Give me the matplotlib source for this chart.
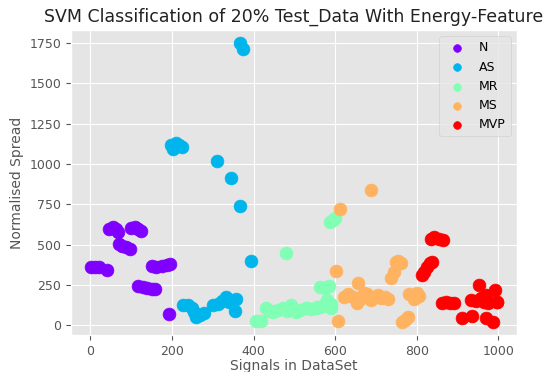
import matplotlib
matplotlib.use("Agg")
import matplotlib.pyplot as plt
import numpy as np

plt.style.use('ggplot')

# Class names
classes = ['N', 'AS', 'MR', 'MS', 'MVP']

# Points: signal index, normalised spread
n_x = [2, 12, 22, 40, 45, 55, 63, 68, 100, 110, 118, 123, 70, 78, 88, 98,
       150, 162, 175, 188, 195, 118, 128, 140, 150, 158, 194]
n_y = [360, 362, 358, 345, 595, 610, 598, 580, 605, 610, 598, 585, 505, 490, 485, 470,
       365, 362, 365, 372, 378, 245, 238, 230, 222, 225, 68]

as_x = [368, 375, 197, 203, 210, 218, 225, 311, 344, 368, 395,
        228, 240, 248, 255, 260, 268, 278, 300, 312, 322, 332, 340, 356, 354]
as_y = [1750, 1709, 1120, 1090, 1128, 1115, 1105, 1017, 915, 738, 397,
        122, 125, 108, 80, 50, 65, 75, 125, 130, 150, 175, 145, 160, 87]

mr_x = [405, 418, 430, 440, 447, 460, 472, 482, 491, 503, 515, 528, 540, 552,
        562, 572, 531, 556, 581, 589, 590, 564, 575, 585, 479, 588, 595, 600]
mr_y = [25, 28, 105, 85, 81, 95, 105, 90, 124, 81, 95, 105, 100, 105,
        110, 124, 105, 112, 155, 105, 130, 236, 230, 240, 446, 640, 655, 665]

ms_x = [688, 613, 601, 606, 621, 632, 645, 654, 655, 662, 670, 679, 687, 695,
        704, 712, 723, 730, 736, 744, 748, 755, 762, 782, 793, 800, 805, 765, 772, 778]
ms_y = [837, 719, 337, 25, 175, 195, 175, 136, 260, 160, 198, 195, 155, 175,
        186, 170, 175, 165, 290, 330, 390, 400, 385, 195, 160, 200, 180, 22, 35, 50]

mvp_x = [835, 843, 855, 864, 812, 818, 826, 832, 838, 862, 872, 882, 892,
         952, 993, 932, 964, 998, 912, 936, 969, 986, 969, 975, 958, 945, 997]
mvp_y = [535, 548, 535, 527, 310, 330, 360, 385, 392, 140, 145, 140, 138,
         248, 217, 155, 143, 143, 43, 56, 43, 19, 186, 140, 170, 150, 144]

xs = [n_x, as_x, mr_x, ms_x, mvp_x]
ys = [n_y, as_y, mr_y, ms_y, mvp_y]
colors = plt.cm.rainbow(np.linspace(0, 1, len(classes)))

fig = plt.figure(figsize=(5.56, 3.72), dpi=100)
ax = fig.add_axes([0.128, 0.099, 0.802, 0.820])

for x, y, c, name in zip(xs, ys, colors, classes):
    ax.scatter(x, y, s=85, color=c, label=name)

ax.set_xlim(-47, 1046)
ax.set_ylim(-62, 1829)
ax.set_xticks([0, 200, 400, 600, 800, 1000])
ax.set_yticks([0, 250, 500, 750, 1000, 1250, 1500, 1750])
ax.tick_params(labelsize=9)

ax.set_title('SVM Classification of 20% Test_Data With Energy-Feature', fontsize=12.5, color='#222222')
ax.set_xlabel('Signals in DataSet', fontsize=10, labelpad=1)
ax.set_ylabel('Normalised Spread', fontsize=10)

ax.legend(loc='upper right', fontsize=9, markerscale=0.6)

fig.savefig('out.png', dpi=100)
